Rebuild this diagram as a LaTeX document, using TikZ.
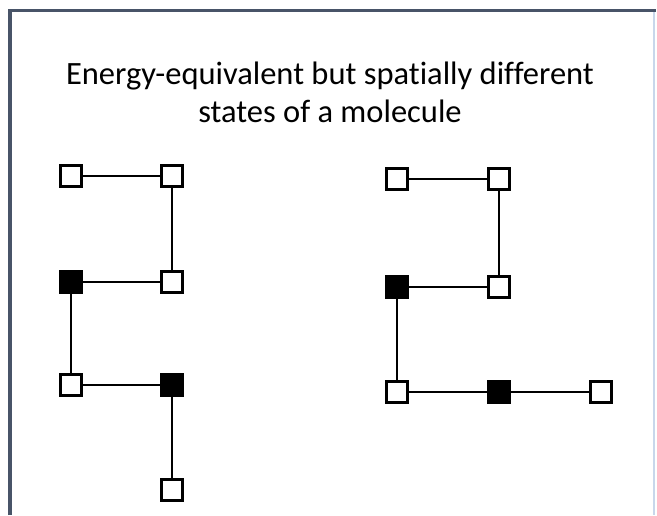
\documentclass[tikz,border=0pt]{standalone}
\usepackage{fontspec}
\setmainfont{Carlito}[Ligatures=NoCommon]
\usepackage{xcolor}
\definecolor{frame}{RGB}{72,84,104}
\definecolor{rim}{RGB}{200,215,235}

\tikzset{
  atom/.style = {draw, line width=2.4pt, fill=white, minimum size=21pt, inner sep=0pt},
  heavy/.style = {atom, fill=black},
  bond/.style = {line width=2.5pt}
}

\begin{document}
\begin{tikzpicture}[x=1pt, y=-1pt]
  \useasboundingbox (0,0) rectangle (657,515);
  \fill[white] (0,0) rectangle (657,515);

  % slide frame
  \draw[rim, line width=1.5pt] (654,12) -- (654,515);
  \draw[frame, line width=3.5pt] (10,515) -- (10,10.5) -- (656,10.5);

  % title
  \node[align=center, font=\fontsize{32.5}{38}\selectfont] (title) at (330,92)
    {Energy-equivalent but spatially different\\states of a molecule};

  % first state
  \node[atom]  (a1) at (71,176) {};
  \node[atom]  (a2) at (172,176) {};
  \node[heavy] (a3) at (71,282) {};
  \node[atom]  (a4) at (172,282) {};
  \node[atom]  (a5) at (71,385) {};
  \node[heavy] (a6) at (172,385) {};
  \node[atom]  (a7) at (172,490) {};

  \draw[bond] (a1) -- (a2);
  \draw[bond] (a2) -- (a4);
  \draw[bond] (a4) -- (a3);
  \draw[bond] (a3) -- (a5);
  \draw[bond] (a5) -- (a6);
  \draw[bond] (a6) -- (a7);

  % second state
  \node[atom]  (b1) at (397,179) {};
  \node[atom]  (b2) at (499,179) {};
  \node[heavy] (b3) at (397,287) {};
  \node[atom]  (b4) at (499,287) {};
  \node[atom]  (b5) at (397,392) {};
  \node[heavy] (b6) at (499,392) {};
  \node[atom]  (b7) at (601,392) {};

  \draw[bond] (b1) -- (b2);
  \draw[bond] (b2) -- (b4);
  \draw[bond] (b4) -- (b3);
  \draw[bond] (b3) -- (b5);
  \draw[bond] (b5) -- (b6);
  \draw[bond] (b6) -- (b7);
\end{tikzpicture}
\end{document}
